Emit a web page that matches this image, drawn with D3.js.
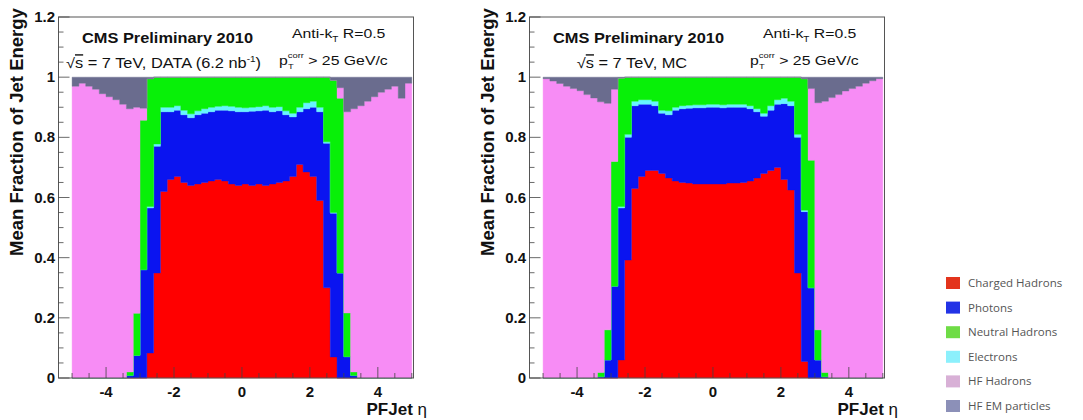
<!DOCTYPE html>
<html>
<head>
<meta charset="utf-8">
<script src="https://cdn.jsdelivr.net/npm/d3@7"></script>
<style>
  body { margin: 0; background: #fff; }
  svg { display: block; font-family: "Liberation Sans", Arial, sans-serif; }
</style>
</head>
<body>
<div class="wrapper"></div>
<script>
const width = 1083;
const height = 420;

// 50 eta bins of 0.2 from -5 to 5 (lower edges)
const etaBins = d3.range(50).map((i) => +(-5 + 0.2 * i).toFixed(1));
const yTicks = [0, 0.2, 0.4, 0.6, 0.8, 1, 1.2];
const yTickLabels = ["0", "0.2", "0.4", "0.6", "0.8", "1", "1.2"];
const xTicks = [-4, -2, 0, 2, 4];

// stacking order, bottom to top
const seriesKeys = ["charged", "photons", "electrons", "neutral", "hfHad", "hfEm"];
const legendNames = ["Charged Hadrons", "Photons", "Neutral Hadrons", "Electrons", "HF Hadrons", "HF EM particles"];
const legendKeys = ["charged", "photons", "neutral", "electrons", "hfHad", "hfEm"];

// DATA
const dataCharged = [0,0,0,0,0,0,0,0,0,0,0,
  0.083,0.349,0.62,0.66,0.67,0.65,0.64,0.645,0.65,0.655,0.66,0.655,0.645,0.64,0.645,0.64,0.645,0.64,0.645,0.65,0.655,0.67,0.71,0.685,0.67,0.59,0.30,0.07,
  0,0,0,0,0,0,0,0,0,0,0];
const dataPhotons = [0,0,0,0,0,0,0,0,
  0.008,0.075,0.36,0.482,0.421,0.265,0.225,0.22,0.225,0.225,0.23,0.23,0.23,0.23,0.235,0.243,0.245,0.24,0.247,0.243,0.25,0.24,0.238,0.22,0.198,0.175,0.21,0.23,0.295,0.48,0.478,0.349,0.071,0.008,
  0,0,0,0,0,0,0,0];
const dataElectrons = [0,0,0,0,0,0,0,0,0,0,0,
  0.005,0.008,0.015,0.015,0.015,0.015,0.013,0.013,0.015,0.015,0.013,0.015,0.015,0.015,0.013,0.013,0.014,0.015,0.015,0.014,0.013,0.012,0.015,0.02,0.02,0.015,0.005,0.002,
  0,0,0,0,0,0,0,0,0,0,0];
const dataNeutral = [0,0,0,0,0,0,0,0,
  0.012,0.14,0.497,0.425,0.222,0.10,0.10,0.095,0.11,0.122,0.112,0.105,0.10,0.097,0.095,0.097,0.10,0.102,0.10,0.098,0.095,0.10,0.098,0.112,0.12,0.10,0.085,0.08,0.10,0.215,0.44,0.581,0.145,0.012,
  0,0,0,0,0,0,0,0];
const dataHFHad = [0.97,0.98,0.97,0.96,0.945,0.935,0.925,0.91,0.875,0.685,0.04,
  0,0,0,0,0,0,0,0,0,0,0,0,0,0,0,0,0,0,0,0,0,0,0,0,0,0,0,0,
  0.035,0.669,0.875,0.905,0.92,0.935,0.95,0.96,0.97,0.93,0.98];
const dataHFEm = [0.03,0.02,0.03,0.04,0.055,0.065,0.075,0.09,0.105,0.10,0.103,0.005,
  0,0,0,0,0,0,0,0,0,0,0,0,0,0,0,0,0,0,0,0,0,0,0,0,0,0,
  0.01,0.035,0.115,0.105,0.095,0.08,0.065,0.05,0.04,0.03,0.07,0.02];

// MC
const mcCharged = [0,0,0,0,0,0,0,0,0,0,0,
  0.06,0.392,0.63,0.67,0.69,0.69,0.68,0.665,0.655,0.65,0.648,0.645,0.645,0.645,0.645,0.645,0.648,0.648,0.65,0.655,0.665,0.68,0.69,0.70,0.66,0.625,0.349,0.055,
  0,0,0,0,0,0,0,0,0,0,0];
const mcPhotons = [0,0,0,0,0,0,0,0,
  0.004,0.06,0.305,0.505,0.408,0.275,0.24,0.22,0.215,0.20,0.21,0.235,0.245,0.249,0.253,0.253,0.255,0.255,0.253,0.252,0.252,0.25,0.24,0.22,0.19,0.20,0.21,0.252,0.28,0.451,0.498,0.30,0.06,0.004,
  0,0,0,0,0,0,0,0];
const mcElectrons = [0,0,0,0,0,0,0,0,0,0,0,
  0.005,0.01,0.015,0.015,0.015,0.015,0.01,0.013,0.01,0.01,0.01,0.01,0.01,0.01,0.01,0.01,0.01,0.01,0.01,0.01,0.01,0.01,0.015,0.015,0.018,0.015,0.01,0.005,
  0,0,0,0,0,0,0,0,0,0,0];
const mcNeutral = [0,0,0,0,0,0,0,0,
  0.014,0.10,0.415,0.427,0.19,0.08,0.075,0.075,0.08,0.11,0.112,0.10,0.095,0.093,0.092,0.092,0.09,0.09,0.092,0.09,0.09,0.09,0.095,0.105,0.12,0.095,0.075,0.07,0.08,0.19,0.437,0.424,0.10,0.014,
  0,0,0,0,0,0,0,0];
const mcHFHad = [0.995,0.987,0.979,0.97,0.962,0.955,0.942,0.931,0.90,0.753,0.24,
  0,0,0,0,0,0,0,0,0,0,0,0,0,0,0,0,0,0,0,0,0,0,0,0,0,0,0,0,
  0.238,0.755,0.902,0.932,0.942,0.954,0.962,0.97,0.98,0.988,0.995];
const mcHFEm = [0.005,0.013,0.021,0.03,0.038,0.045,0.058,0.069,0.082,0.087,0.04,0.003,
  0,0,0,0,0,0,0,0,0,0,0,0,0,0,0,0,0,0,0,0,0,0,0,0,0,0,
  0.005,0.038,0.085,0.08,0.068,0.058,0.046,0.038,0.03,0.02,0.012,0.005];

const fillColors = {
  charged: "#ff0000",
  photons: "#0a14f0",
  electrons: "#66f4ff",
  neutral: "#08f008",
  hfHad: "#f78cf5",
  hfEm: "#6a6c8e",
};
const legendColors = {
  charged: "#e3341c",
  photons: "#2233e6",
  neutral: "#6fdc46",
  electrons: "#8cf0fc",
  hfHad: "#d8b0d6",
  hfEm: "#8c90b8",
};

const panels = [
  {
    offset: 0,
    kind: "data",
    values: { charged: dataCharged, photons: dataPhotons, electrons: dataElectrons, neutral: dataNeutral, hfHad: dataHFHad, hfEm: dataHFEm },
  },
  {
    offset: 471,
    kind: "mc",
    values: { charged: mcCharged, photons: mcPhotons, electrons: mcElectrons, neutral: mcNeutral, hfHad: mcHFHad, hfEm: mcHFEm },
  },
];

const svg = d3
  .select(".wrapper")
  .append("svg")
  .attr("width", width)
  .attr("height", height)
  .attr("viewBox", [0, 0, width, height]);

const x = d3.scaleLinear().domain([-5.4, 5.05]).range([58.5, 413.5]);
const y = d3.scaleLinear().domain([0, 1.2]).range([378, 17]);

// the labels in the original are a bit wider than the fonts here
const stretch = 1.17;

const drawPanel = (panel) => {
  const g = svg.append("g").attr("transform", `translate(${panel.offset},0)`);

  const rows = etaBins.map((eta, i) => {
    const row = { eta };
    for (const key of seriesKeys) row[key] = panel.values[key][i];
    return row;
  });
  // closing point at the upper edge of the last bin
  rows.push({ ...rows[rows.length - 1], eta: 5 });

  const stacked = d3.stack().keys(seriesKeys)(rows);

  const area = d3
    .area()
    .curve(d3.curveStepAfter)
    .x((d) => x(d.data.eta))
    .y0((d) => y(d[0]))
    .y1((d) => y(d[1]));

  g.append("g")
    .selectAll("path")
    .data(stacked)
    .join("path")
    .attr("fill", (d) => fillColors[d.key])
    .attr("stroke", (d) => fillColors[d.key])
    .attr("stroke-width", 0.4)
    .attr("d", area);

  // frame
  g.append("rect")
    .attr("x", x.range()[0])
    .attr("y", y(1.2))
    .attr("width", x.range()[1] - x.range()[0])
    .attr("height", y(0) - y(1.2))
    .attr("fill", "none")
    .attr("stroke", "#555")
    .attr("stroke-width", 1);

  // y ticks (inside)
  const yMinor = d3.range(0, 1.2001, 0.05);
  g.append("g")
    .selectAll("line")
    .data(yMinor)
    .join("line")
    .attr("x1", x.range()[0])
    .attr("x2", (d) => x.range()[0] + (Math.abs(d * 5 - Math.round(d * 5)) < 1e-6 ? 11 : 5))
    .attr("y1", (d) => y(d))
    .attr("y2", (d) => y(d))
    .attr("stroke", "#444")
    .attr("stroke-width", 0.8);

  // x ticks (inside)
  const xMinor = d3.range(-5, 5.001, 0.5);
  g.append("g")
    .selectAll("line")
    .data(xMinor)
    .join("line")
    .attr("x1", (d) => x(d))
    .attr("x2", (d) => x(d))
    .attr("y1", y(0))
    .attr("y2", (d) => y(0) - (Math.abs(d / 2 - Math.round(d / 2)) < 1e-6 ? 11 : 5))
    .attr("stroke", "#444")
    .attr("stroke-width", 0.8);

  // tick labels
  g.append("g")
    .selectAll("text")
    .data(yTicks)
    .join("text")
    .attr("x", 55)
    .attr("y", (d) => y(d) + 5)
    .attr("text-anchor", "end")
    .attr("font-size", 15)
    .attr("font-weight", "bold")
    .attr("fill", "#111")
    .text((d, i) => yTickLabels[i]);

  g.append("g")
    .selectAll("text")
    .data(xTicks)
    .join("text")
    .attr("x", (d) => x(d))
    .attr("y", 397)
    .attr("text-anchor", "middle")
    .attr("font-size", 15)
    .attr("font-weight", "bold")
    .attr("fill", "#111")
    .text((d) => d);

  // axis titles
  g.append("text")
    .attr("transform", "translate(23,132) rotate(-90)")
    .attr("text-anchor", "middle")
    .attr("font-size", 18.5)
    .attr("font-weight", "bold")
    .attr("fill", "#111")
    .text("Mean Fraction of Jet Energy");

  const xt = g.append("text")
    .attr("x", 427)
    .attr("y", 415)
    .attr("text-anchor", "end")
    .attr("font-size", 17)
    .attr("font-weight", "bold")
    .attr("fill", "#111");
  xt.append("tspan").text("PFJet ");
  xt.append("tspan").attr("font-weight", "normal").text("η");

  // labels inside the plot
  g.append("g")
    .attr("transform", `translate(167.5,43) scale(${stretch},1)`)
    .append("text")
    .attr("text-anchor", "middle")
    .attr("font-size", 14)
    .attr("font-weight", "bold")
    .attr("fill", "#111")
    .text("CMS Preliminary 2010");

  const l2 = g.append("g")
    .attr("transform", `translate(${panel.kind === "data" ? 163.5 : 161},68) scale(${stretch},1)`)
    .append("text")
    .attr("text-anchor", "middle")
    .attr("font-size", 14)
    .attr("fill", "#111");
  l2.append("tspan").text("√");
  l2.append("tspan").style("text-decoration", "overline").text("s");
  if (panel.kind === "data") {
    l2.append("tspan").text(" = 7 TeV, DATA (6.2 nb");
    l2.append("tspan").attr("font-size", 8.5).attr("dy", -6).text("-1");
    l2.append("tspan").attr("dy", 6).text(")");
  } else {
    l2.append("tspan").text(" = 7 TeV, MC");
  }

  const a = g.append("g")
    .attr("transform", `translate(292,38) scale(${stretch},1)`)
    .append("text")
    .attr("font-size", 13.5)
    .attr("fill", "#111");
  a.append("tspan").text("Anti-k");
  a.append("tspan").attr("font-size", 8.5).attr("dy", 4).text("T");
  a.append("tspan").attr("dy", -4).text(" R=0.5");

  const pg = g.append("g").attr("transform", `translate(279,65) scale(${stretch},1)`);
  const p = pg.append("text").attr("font-size", 13.5).attr("fill", "#111");
  p.append("tspan").text("p");
  p.append("tspan").attr("font-size", 8).attr("dy", -7).text("corr");
  p.append("tspan").attr("dy", 7).text(" > 25 GeV/c");
  pg.append("text")
    .attr("x", 7.8)
    .attr("y", 4)
    .attr("font-size", 8)
    .attr("fill", "#111")
    .text("T");
};

panels.forEach(drawPanel);

// legend
const legend = svg.append("g").attr("transform", "translate(946,277)");
legend
  .selectAll("rect")
  .data(legendKeys)
  .join("rect")
  .attr("x", 0)
  .attr("y", (d, i) => i * 24.6)
  .attr("width", 14)
  .attr("height", 12)
  .attr("fill", (d) => legendColors[d]);
legend
  .selectAll("text")
  .data(legendNames)
  .join("text")
  .attr("x", 22)
  .attr("y", (d, i) => i * 24.6 + 10)
  .attr("font-size", 11.5)
  .attr("font-family", "'Open Sans', 'Liberation Sans', sans-serif")
  .attr("fill", "#555")
  .text((d) => d);
</script>
</body>
</html>
